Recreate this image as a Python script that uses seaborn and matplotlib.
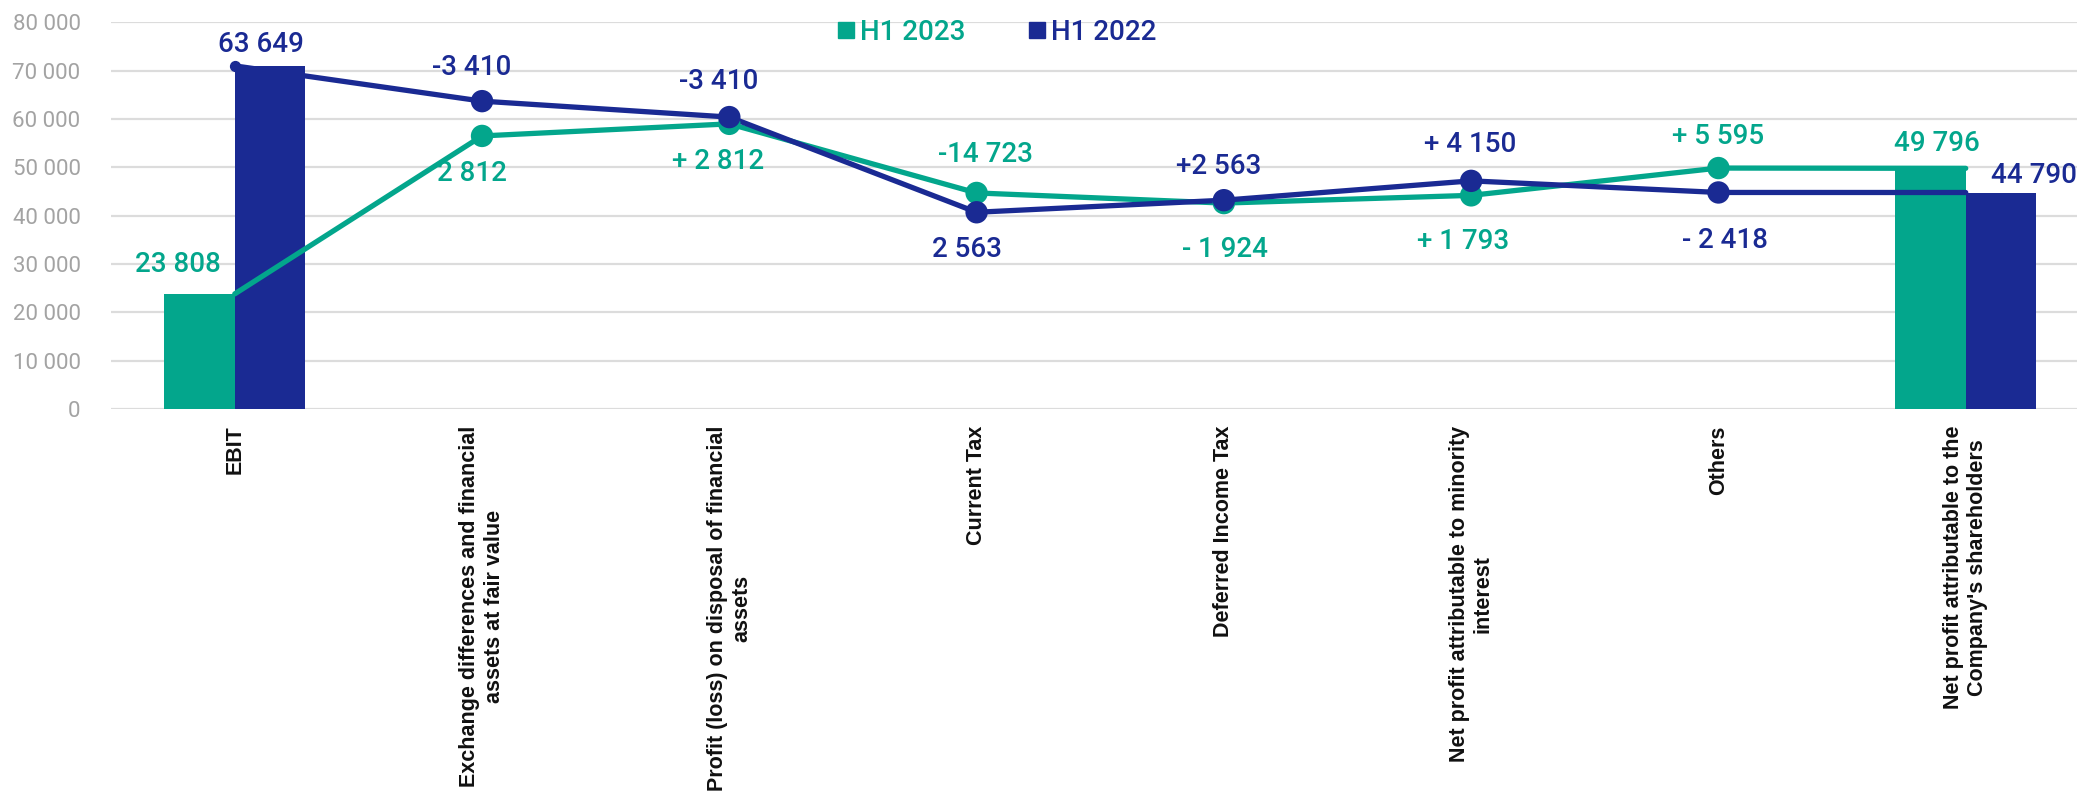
import pandas as pd
import matplotlib.pyplot as plt
import seaborn as sns
from matplotlib.lines import Line2D

# data
categories = [
    "EBIT",
    "Exchange differences and financial\nassets at fair value",
    "Profit (loss) on disposal of financial\nassets",
    "Current Tax",
    "Deferred Income Tax",
    "Net profit attributable to minority\ninterest",
    "Others",
    "Net profit attributable to the\nCompany's shareholders",
]
series = ["H1 2023", "H1 2022"]
line_2023 = [23808, 56500, 59000, 44700, 42600, 44200, 49850, 49796]
line_2022 = [71000, 63700, 60400, 40700, 43200, 47200, 44800, 44790]
bar_cats = ["EBIT", "Net profit attributable to the\nCompany's shareholders"]
bars_2023 = [23808, 49796]
bars_2022 = [71000, 44790]
labels_2023 = ["23 808", "2 812", "+ 2 812", "-14 723", "- 1 924", "+ 1 793", "+ 5 595", "49 796"]
labels_2022 = ["63 649", "-3 410", "-3 410", "2 563", "+2 563", "+ 4 150", "- 2 418", "44 790"]

# label offsets in pixels (style only)
off_2023 = [(-57, 29), (-10, -38), (-11, -38), (9, 38), (1, -46), (-8, -46), (0, 32), (-29, 25)]
off_2022 = [(26, 21), (-10, 34), (-11, 36), (-10, -37), (-5, 34), (-1, 36), (7, -48), (68, 17)]

TEAL = "#03A68C"
NAVY = "#1A2A93"

sns.set_style("white")
plt.rcParams["font.family"] = ["Roboto", "DejaVu Sans"]

fig = plt.figure(figsize=(20.77, 7.94), dpi=100)
ax = fig.add_axes([0.0535, 0.485, 0.9465, 0.4868])

bar_df = pd.DataFrame({
    "cat": bar_cats * 2,
    "value": bars_2023 + bars_2022,
    "series": ["H1 2023"] * 2 + ["H1 2022"] * 2,
})
sns.barplot(data=bar_df, x="cat", y="value", hue="series", order=categories,
            hue_order=series, palette=[TEAL, NAVY], width=0.57, gap=0,
            saturation=1, linewidth=0, legend=False, ax=ax, zorder=2)

xs = list(range(len(categories)))
line_df = pd.DataFrame({
    "x": xs * 2,
    "value": line_2023 + line_2022,
    "series": ["H1 2023"] * len(xs) + ["H1 2022"] * len(xs),
})
sns.lineplot(data=line_df, x="x", y="value", hue="series", hue_order=series,
             palette=[TEAL, NAVY], linewidth=3.8, legend=False, ax=ax, zorder=4)

mid = line_df[(line_df["x"] > 0) & (line_df["x"] < 7)]
sns.scatterplot(data=mid, x="x", y="value", hue="series", hue_order=series,
                palette=[TEAL, NAVY], s=260, linewidth=0, legend=False, ax=ax, zorder=5)
ax.scatter([0], [line_2022[0]], s=50, color=NAVY, zorder=5)

for i in xs:
    ax.annotate(labels_2023[i], (i, line_2023[i]), xytext=off_2023[i], textcoords="offset pixels",
                ha="center", va="center", color=TEAL, fontsize=20, fontweight="medium", zorder=6)
    ax.annotate(labels_2022[i], (i, line_2022[i]), xytext=off_2022[i], textcoords="offset pixels",
                ha="center", va="center", color=NAVY, fontsize=20, fontweight="medium", zorder=6)

ax.set_xlim(-0.5, 7.45)
ax.set_ylim(0, 80000)
ax.set_yticks(range(0, 80001, 10000))
ax.set_yticklabels([f"{v:,}".replace(",", " ") for v in range(0, 80001, 10000)],
                   color="#a3a3a3", fontsize=16)
ax.set_xticks(xs)
ax.set_xticklabels(categories, rotation=90, fontsize=15.5, fontweight="bold",
                   family=["Liberation Sans", "DejaVu Sans"], color="#111111",
                   multialignment="center")
ax.tick_params(axis="x", length=0, pad=12)
ax.tick_params(axis="y", length=0, pad=22)
ax.set_xlabel("")
ax.set_ylabel("")
ax.yaxis.grid(True, color="#dcdcdc", linewidth=1.6, zorder=0)
ax.xaxis.grid(False)
ax.set_axisbelow(True)
for s in ax.spines.values():
    s.set_visible(False)

handles = [Line2D([], [], marker="s", linestyle="none", color=c, markersize=12) for c in (TEAL, NAVY)]
leg = ax.legend(handles, series, loc="center", bbox_to_anchor=(0.45, 0.975), ncol=2,
                frameon=False, fontsize=20, handletextpad=0.1, columnspacing=2.2,
                handlelength=0.8)
for t, c in zip(leg.get_texts(), (TEAL, NAVY)):
    t.set_color(c)
    t.set_fontweight("medium")

fig.savefig("out.png", dpi=100)
